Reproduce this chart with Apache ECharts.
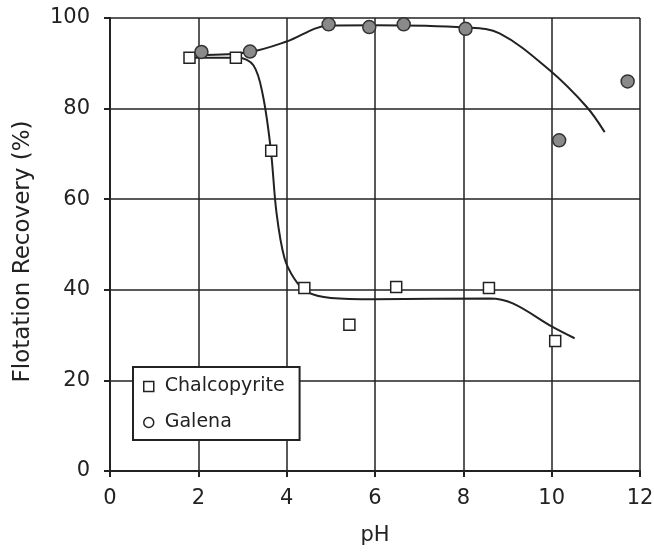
<!DOCTYPE html>
<html>
<head>
<meta charset="utf-8">
<script src="https://cdn.jsdelivr.net/npm/echarts@6/dist/echarts.min.js"></script>
<style>
    html,body{margin:0;padding:0;background:#fff;}
    #main{width:654px;height:554px;}
</style>
</head>
<body>
<div id="main"></div>
<script>
    // measured points (pH, recovery %)
    var chalcoPoints = [[1.8,91.2],[2.85,91.2],[3.65,70.7],[4.4,40.4],[5.42,32.3],[6.48,40.6],[8.58,40.4],[10.08,28.7]];
    var galenaPoints = [[2.07,92.5],[3.17,92.6],[4.95,98.6],[5.87,98.0],[6.65,98.6],[8.05,97.6],[10.17,73.0],[11.72,86.0]];
    // hand drawn trend curves
    var chalcoCurve = [[1.8,91.2],[2.9,91.2],[3.25,89.5],[3.46,83],[3.64,71],[3.77,57],[3.95,47],[4.17,42.5],[4.45,39.6],[5.0,38.2],[6.0,37.9],[8.6,38.1],[9.12,37],[10.02,31.8],[10.52,29.3]];
    var galenaCurve = [[2.0,91.8],[3.17,92.5],[4.0,94.8],[4.94,98.3],[6.0,98.4],[8.05,97.9],[8.82,96.6],[9.95,88.5],[10.79,80.4],[11.2,74.8]];
    var xTicks = [0,2,4,6,8,10,12];
    var yTicks = [0,20,40,60,80,100];

    var font = 'DejaVu Sans, Liberation Sans, sans-serif';
    var myChart = echarts.init(document.getElementById('main'));
    myChart.setOption({
        animation:false,
        backgroundColor:'#fff',
        grid:{left:110,right:14,top:18,bottom:83,outerBoundsMode:'none'},
        legend:{
            orient:'vertical',
            left:133,top:367,
            padding:[10,15,8,10],
            itemGap:17,
            backgroundColor:'#fff',
            borderColor:'#222',
            borderWidth:2,
            itemWidth:10,itemHeight:10,
            textStyle:{fontFamily:font,fontSize:19,color:'#222',padding:[0,0,0,6]},
            data:[
                {name:'Chalcopyrite',icon:'rect',itemStyle:{color:'#fff',borderColor:'#222',borderWidth:1.5}},
                {name:'Galena',icon:'circle',itemStyle:{color:'#fff',borderColor:'#222',borderWidth:1.5}}
            ]
        },
        xAxis:{
            type:'value',min:xTicks[0],max:xTicks[xTicks.length-1],interval:2,
            name:'pH',nameLocation:'middle',nameGap:54,
            nameTextStyle:{fontFamily:font,fontSize:21,color:'#222'},
            axisLine:{lineStyle:{color:'#222',width:2}},
            axisTick:{length:6,lineStyle:{color:'#222',width:2}},
            axisLabel:{fontFamily:font,fontSize:21,color:'#222',margin:17},
            splitLine:{show:true,lineStyle:{color:'#222',width:1.5}}
        },
        yAxis:{
            type:'value',min:yTicks[0],max:yTicks[yTicks.length-1],interval:20,
            name:'Flotation Recovery (%)',nameLocation:'middle',nameGap:75,
            nameTextStyle:{fontFamily:font,fontSize:23,color:'#222',padding:[0,0,0,-14]},
            axisLine:{show:true,lineStyle:{color:'#222',width:2}},
            axisTick:{show:true,length:6,lineStyle:{color:'#222',width:2}},
            axisLabel:{fontFamily:font,fontSize:21,color:'#222',margin:20},
            splitLine:{show:true,lineStyle:{color:'#222',width:1.5}}
        },
        series:[
            {
                name:'chalcoCurve',type:'line',data:chalcoCurve,smooth:0.35,
                showSymbol:false,symbol:'none',silent:true,
                lineStyle:{color:'#222',width:2},z:3
            },
            {
                name:'galenaCurve',type:'line',data:galenaCurve,smooth:0.35,
                showSymbol:false,symbol:'none',silent:true,
                lineStyle:{color:'#222',width:2},z:3
            },
            {
                name:'Chalcopyrite',type:'scatter',data:chalcoPoints,
                symbol:'rect',symbolSize:11,
                itemStyle:{color:'#fff',borderColor:'#222',borderWidth:1.5,opacity:1},z:5
            },
            {
                name:'Galena',type:'scatter',data:galenaPoints,
                symbol:'circle',symbolSize:13,
                itemStyle:{color:'#8a8a8a',borderColor:'#333',borderWidth:1.5,opacity:1},z:5
            }
        ]
    });
</script>
</body>
</html>
